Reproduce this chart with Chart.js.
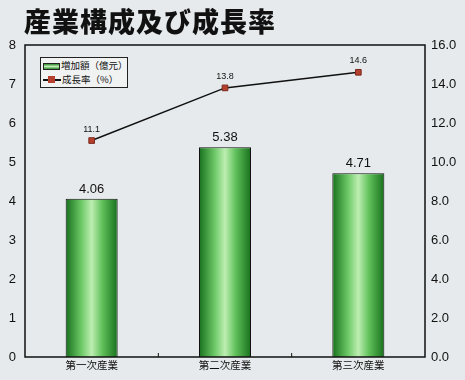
<!DOCTYPE html>
<html>
<head>
<meta charset="utf-8">
<script src="https://cdn.jsdelivr.net/npm/chart.js@4.4.1/dist/chart.umd.min.js"></script>
<style>
body{margin:0;background:#e6eaec;}
#wrap{position:relative;width:465px;height:380px;}
#title{position:absolute;left:24px;top:1px;font-family:"Noto Sans CJK JP";font-weight:900;font-size:27px;color:#111;letter-spacing:1px;}
#legend{position:absolute;left:40px;top:57px;width:86px;height:29px;border:1px solid #222;background:#f1f3f3;font-family:"Noto Sans CJK JP";font-size:9.5px;color:#111;}
#legend div{height:14px;line-height:14px;white-space:nowrap;}
#legend span{display:inline-block;vertical-align:middle;}
</style>
</head>
<body>
<div id="wrap">
<canvas id="myChart" width="465" height="380"></canvas>
<div id="title">産業構成及び成長率</div>
<div id="legend"></div>
</div>
<script>
let categories = ["第一次産業", "第二次産業", "第三次産業"];
let amount = [4.06, 5.38, 4.71];
let growth = [11.1, 13.8, 14.6];
let amountLabel = "増加額（億元）";
let growthLabel = "成長率（%）";
let barPct = 0.39;

// green cylinder look, one gradient per bar
function barShade(c){
	let chart = c.chart, x = chart.scales.x;
	if(c.type !== "data" || !x || !(x.width > 0)) return "#4caf4a";
	let mid = x.getPixelForValue(c.dataIndex);
	let half = x.width / categories.length * barPct / 2;
	if(!isFinite(mid) || !isFinite(half)) return "#4caf4a";
	let g = chart.ctx.createLinearGradient(mid - half, 0, mid + half, 0);
	g.addColorStop(0, "#17701c");
	g.addColorStop(0.3, "#6cc866");
	g.addColorStop(0.5, "#bdeeb2");
	g.addColorStop(0.7, "#62c25c");
	g.addColorStop(1, "#17701c");
	return g;
}

let valueLabels = {
	id: "valueLabels",
	afterDatasetsDraw(chart){
		let ctx = chart.ctx;
		ctx.save();
		ctx.textAlign = "center";
		ctx.fillStyle = "#111";
		ctx.font = "13px 'Liberation Sans'";
		chart.getDatasetMeta(0).data.forEach((bar, i) => {
			ctx.fillText(amount[i].toFixed(2), bar.x, bar.y - 6);
		});
		ctx.font = "9px 'Liberation Sans'";
		chart.getDatasetMeta(1).data.forEach((pt, i) => {
			ctx.fillText(growth[i].toFixed(1), pt.x, pt.y - 9);
		});
		// frame on top
		let a = chart.chartArea;
		ctx.strokeStyle = "#111";
		ctx.lineWidth = 1.5;
		ctx.strokeRect(a.left, a.top, a.right - a.left, a.bottom - a.top);
		// small marks between categories
		ctx.lineWidth = 1;
		for(let i = 1; i < categories.length; i++){
			let xx = chart.scales.x.getPixelForValue(i - 0.5);
			ctx.beginPath();
			ctx.moveTo(xx, a.bottom);
			ctx.lineTo(xx, a.bottom - 4);
			ctx.stroke();
		}
		ctx.restore();
	}
};

let chart = new Chart("myChart", {
	type: "bar",
	data: {
		labels: categories,
		datasets: [{
			label: amountLabel,
			data: amount,
			yAxisID: "y",
			backgroundColor: barShade,
			borderColor: "#111",
			borderWidth: 1,
			barPercentage: barPct,
			categoryPercentage: 1,
			order: 1
		}, {
			type: "line",
			label: growthLabel,
			data: growth,
			yAxisID: "y1",
			borderColor: "#111",
			borderWidth: 1.5,
			pointStyle: "rect",
			pointRadius: 4,
			pointBackgroundColor: "#b5402e",
			pointBorderColor: "#7a2a1e",
			pointBorderWidth: 1,
			tension: 0,
			order: 0
		}]
	},
	options: {
		responsive: false,
		animation: false,
		layout: { padding: { top: 45 } },
		plugins: {
			legend: { display: false },
			tooltip: { enabled: false }
		},
		scales: {
			x: {
				grid: { display: false, drawTicks: false },
				border: { display: false },
				ticks: { color: "#111", font: { family: "Noto Sans CJK JP", size: 10.5 }, padding: 2 },
				afterFit(s){ s.height = 23; }
			},
			y: {
				position: "left",
				min: 0,
				max: 8,
				grid: { display: false, drawTicks: false },
				border: { display: false },
				ticks: { stepSize: 1, color: "#111", font: { family: "Liberation Sans", size: 13 }, padding: 9 },
				afterFit(s){ s.width = 25; }
			},
			y1: {
				position: "right",
				min: 0,
				max: 16,
				grid: { display: false, drawTicks: false },
				border: { display: false },
				ticks: { stepSize: 2, color: "#111", font: { family: "Liberation Sans", size: 13 }, padding: 6,
					callback: v => v.toFixed(1) },
				afterFit(s){ s.width = 40; }
			}
		}
	},
	plugins: [valueLabels]
});

// legend box inside the plot, built from the datasets
let legend = document.getElementById("legend");
legend.innerHTML =
	'<div><span style="width:15px;height:5px;border:1px solid #222;background:linear-gradient(#2f8a2f,#bdeeb2,#2f8a2f);margin:0 1px 0 2px"></span>' + chart.data.datasets[0].label + '</div>' +
	'<div><span style="width:18px;height:8px;position:relative;margin:0 1px 0 2px">' +
	'<span style="position:absolute;left:0;top:3px;width:18px;height:1.5px;background:#111"></span>' +
	'<span style="position:absolute;left:5px;top:0;width:7px;height:7px;background:#b5402e"></span></span>' + chart.data.datasets[1].label + '</div>';
</script>
</body>
</html>
